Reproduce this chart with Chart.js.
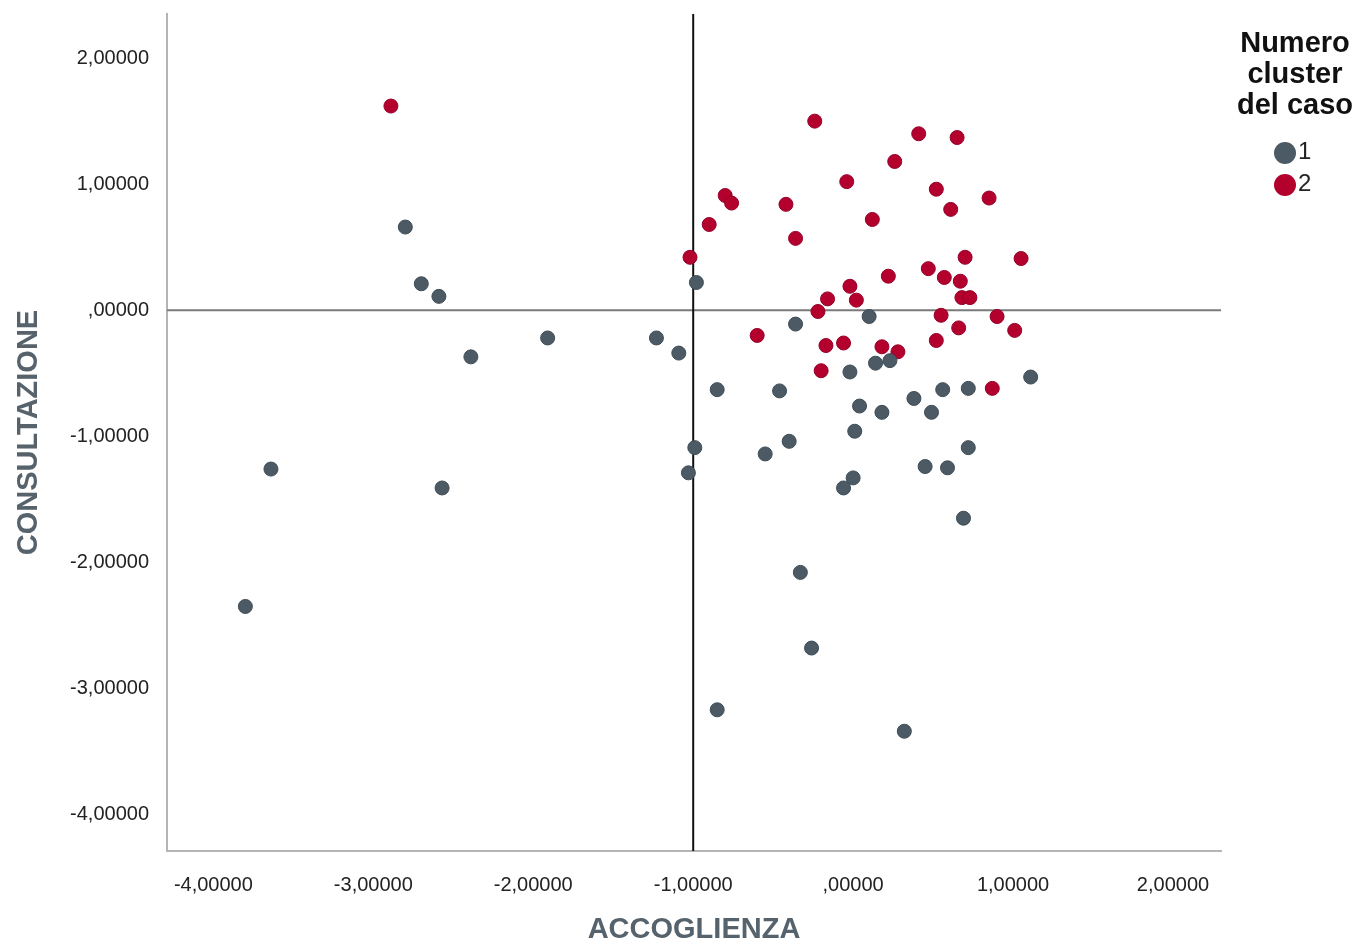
<!DOCTYPE html>
<html>
<head>
<meta charset="utf-8">
<script src="https://cdn.jsdelivr.net/npm/chart.js@4.4.1/dist/chart.umd.min.js"></script>
<style>
  body { margin: 0; background: #fff; }
  #wrap { position: relative; width: 1360px; height: 947px; }
  #legend { position: absolute; left: 1222px; top: 27px; width: 146px; font-family: "Liberation Sans", Arial, sans-serif; }
  #legend .title { font-weight: bold; font-size: 29px; line-height: 31px; color: #111; text-align: center; }
  #legend .item { position: absolute; left: 52px; font-size: 24px; color: #222; line-height: 24px; }
  #legend .dot { display: inline-block; width: 22px; height: 22px; border-radius: 50%; vertical-align: middle; margin-right: 2px; }
</style>
</head>
<body>
<div id="wrap">
  <canvas id="myChart"></canvas>
  <div id="legend">
    <div class="title">Numero<br>cluster<br>del caso</div>
    <div class="item" style="top:112px"><span class="dot" style="background:#4b5a64"></span>1</div>
    <div class="item" style="top:144px"><span class="dot" style="background:#b3002d"></span>2</div>
  </div>
</div>
<script>
// Dati: ACCOGLIENZA (x) e CONSULTAZIONE (y) per cluster
var cluster1X = [-2.80, -2.70, -2.59, -2.39, -1.91, -1.23, -1.09, -0.98, -3.64, -2.57,
                 -3.80, -0.36, 0.10, -0.02, 0.14, 0.23, 1.11, -0.85, -0.46, 0.56,
                 0.72, 0.38, 0.04, 0.18, 0.49, 0.01, -0.99, -0.40, -0.55, 0.72,
                 -1.03, 0.45, 0.59, 0.00, -0.06, 0.69, -0.33, -0.26, -0.85, 0.32];
var cluster1Y = [0.66, 0.21, 0.11, -0.37, -0.22, -0.22, -0.34, 0.22, -1.26, -1.41,
                 -2.35, -0.11, -0.05, -0.49, -0.42, -0.40, -0.53, -0.63, -0.64, -0.63,
                 -0.62, -0.70, -0.76, -0.81, -0.81, -0.96, -1.09, -1.04, -1.14, -1.09,
                 -1.29, -1.24, -1.25, -1.33, -1.41, -1.65, -2.08, -2.68, -3.17, -3.34];
var cluster2X = [-2.89, -0.24, 0.41, 0.65, 0.26, -0.04, 0.52, 0.85, 0.61, -0.80,
                 -0.76, -0.42, 0.12, -0.90, -0.36, -1.02, 0.70, 1.05, 0.47, 0.22,
                 0.57, 0.67, -0.02, -0.16, 0.02, 0.68, 0.73, -0.22, 0.55, 0.90,
                 0.66, 1.01, -0.60, 0.52, -0.17, -0.06, 0.18, 0.28, -0.20, 0.87];
var cluster2Y = [1.62, 1.50, 1.40, 1.37, 1.18, 1.02, 0.96, 0.89, 0.80, 0.91,
                 0.85, 0.84, 0.72, 0.68, 0.57, 0.42, 0.42, 0.41, 0.33, 0.27,
                 0.26, 0.23, 0.19, 0.09, 0.08, 0.10, 0.10, -0.01, -0.04, -0.05,
                 -0.14, -0.16, -0.20, -0.24, -0.28, -0.26, -0.29, -0.33, -0.48, -0.62];
var xTicks = [-4, -3, -2, -1, 0, 1, 2];
var yTicks = [-4, -3, -2, -1, 0, 1, 2];
var refLineX = -1;
var refLineY = 0;

function toPoints(xs, ys) {
    return xs.map(function (x, i) { return { x: x, y: ys[i] }; });
}

// formato italiano: 1,00000 / ,00000
function formatTick(v) {
    var s = Number(v).toFixed(5).replace('.', ',');
    if (s === '0,00000' || s === '-0,00000') s = ',00000';
    return s;
}

// linee di riferimento x=-1 e y=0
var refLines = {
    id: 'refLines',
    beforeDatasetsDraw: function (chart) {
        var ctx = chart.ctx, area = chart.chartArea;
        var px = chart.scales.x.getPixelForValue(refLineX);
        var py = chart.scales.y.getPixelForValue(refLineY);
        ctx.save();
        ctx.lineWidth = 2;
        ctx.strokeStyle = '#7a7a7a';
        ctx.beginPath();
        ctx.moveTo(area.left, py);
        ctx.lineTo(area.right, py);
        ctx.stroke();
        ctx.strokeStyle = '#111';
        ctx.beginPath();
        ctx.moveTo(px, area.top);
        ctx.lineTo(px, area.bottom);
        ctx.stroke();
        ctx.restore();
    }
};

var tickFont = { family: '"Liberation Sans", Arial, sans-serif', size: 20 };
var titleFont = { family: '"Liberation Sans", Arial, sans-serif', size: 29, weight: 'bold' };

var ctx = document.getElementById('myChart').getContext('2d');
var myChart = new Chart(ctx, {
    type: 'scatter',
    data: {
        datasets: [{
            label: '1',
            data: toPoints(cluster1X, cluster1Y),
            backgroundColor: '#4b5a64',
            borderColor: '#3f4c55',
            borderWidth: 1,
            pointRadius: 7,
            pointHoverRadius: 7
        }, {
            label: '2',
            data: toPoints(cluster2X, cluster2Y),
            backgroundColor: '#b3002d',
            borderColor: '#96002a',
            borderWidth: 1,
            pointRadius: 7,
            pointHoverRadius: 7
        }]
    },
    options: {
        responsive: true,
        maintainAspectRatio: false,
        animation: false,
        layout: { padding: { left: 0, right: 139, top: 14, bottom: 0 } },
        plugins: {
            legend: { display: false },
            tooltip: { enabled: false }
        },
        scales: {
            x: {
                min: -4.29,
                max: 2.3,
                afterBuildTicks: function (scale) {
                    scale.ticks = xTicks.map(function (v) { return { value: v }; });
                },
                afterFit: function (scale) {
                    scale.height = 96;
                    scale.paddingLeft = 0;
                    scale.paddingRight = 0;
                },
                grid: { display: false },
                border: { display: true, color: '#b4b4b4', width: 2 },
                ticks: {
                    padding: 14,
                    color: '#222',
                    font: tickFont,
                    maxRotation: 0,
                    callback: function (v) { return formatTick(v); }
                },
                title: {
                    display: true,
                    text: 'ACCOGLIENZA',
                    color: '#56636c',
                    font: titleFont,
                    padding: { top: 0, bottom: 0 }
                }
            },
            y: {
                min: -4.29,
                max: 2.35,
                afterBuildTicks: function (scale) {
                    scale.ticks = yTicks.map(function (v) { return { value: v }; });
                },
                afterFit: function (scale) {
                    scale.width = 167;
                    scale.paddingTop = 0;
                    scale.paddingBottom = 0;
                },
                grid: { display: false },
                border: { display: true, color: '#b4b4b4', width: 2 },
                ticks: {
                    padding: 10,
                    color: '#222',
                    font: tickFont,
                    callback: function (v) { return formatTick(v); }
                },
                title: {
                    display: true,
                    text: 'CONSULTAZIONE',
                    color: '#56636c',
                    font: titleFont,
                    padding: { top: 12, bottom: 0 }
                }
            }
        }
    },
    plugins: [refLines]
});
</script>
</body>
</html>
